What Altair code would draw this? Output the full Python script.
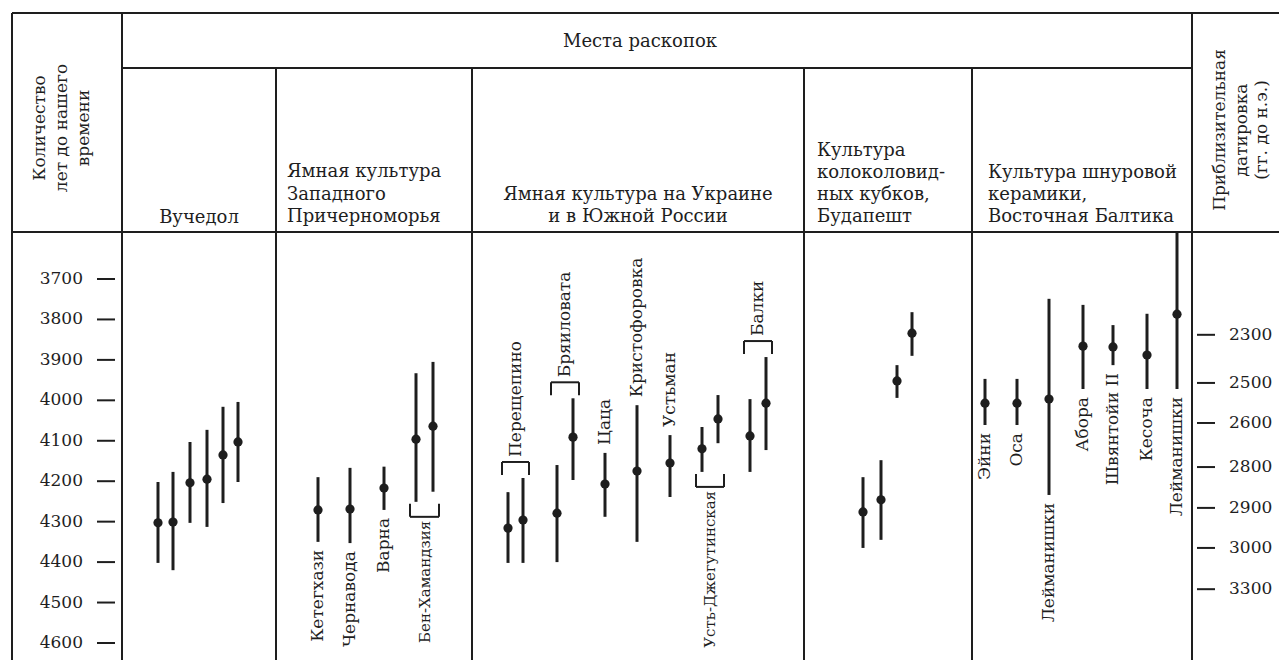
import altair as alt
import pandas as pd

# ---------------- data (years before present) ----------------
site_names = (["Вучедол"] * 6 +
              ["Кетегхази", "Чернавода", "Варна", "Бен-Хамандзия", "Бен-Хамандзия",
               "Перещепино", "Перещепино", "Бряиловата", "Бряиловата", "Цаца",
               "Кристофоровка", "Устьман", "Усть-Джегутинская", "Усть-Джегутинская",
               "Балки", "Балки"] +
              ["Будапешт"] * 4 +
              ["Эйни", "Оса", "Лейманишки", "Абора", "Швянтойи II", "Кесоча", "Лейманишки"])
mid_bp = [4303, 4301, 4204, 4195, 4135, 4103,
          4271, 4269, 4217, 4096, 4064,
          4316, 4296, 4279, 4091, 4207, 4175, 4155, 4120, 4046, 4088, 4007,
          4276, 4246, 3952, 3834,
          4007, 4007, 3997, 3866, 3868, 3888, 3787]
low_bp = [4202, 4177, 4103, 4073, 4016, 4004,
          4190, 4167, 4164, 3933, 3905,
          4227, 4192, 4160, 3995, 4130, 4012, 4086, 4066, 3987, 3997, 3893,
          4190, 4148, 3913, 3782,
          3947, 3947, 3749, 3764, 3814, 3786, 3584]
high_bp = [4402, 4420, 4303, 4313, 4254, 4202,
           4350, 4353, 4271, 4251, 4226,
           4402, 4402, 4400, 4197, 4288, 4350, 4239, 4177, 4106, 4177, 4123,
           4365, 4345, 3994, 3890,
           4061, 4061, 4234, 3972, 3913, 3972, 3972]
# horizontal slot of every dating inside the table
slot = [158, 173, 190, 207, 223, 238,
        318, 350, 384, 416, 433,
        508, 523, 557, 573, 605, 637, 670, 702, 718, 750, 766,
        863, 881, 897, 912,
        985, 1017, 1049, 1083, 1113, 1147, 1177]
label_side = (["none"] * 6 +
              ["below"] * 3 + ["group_below"] * 2 +
              ["group_above"] * 4 + ["above"] * 3 + ["group_below"] * 2 + ["group_above"] * 2 +
              ["none"] * 4 +
              ["below"] * 7)

left_ticks = [3700, 3800, 3900, 4000, 4100, 4200, 4300, 4400, 4500, 4600]
right_tick_labels = ["2300", "2500", "2600", "2800", "2900", "3000", "3300"]
right_tick_bp = [3838, 3957, 4056, 4165, 4266, 4365, 4467]

# ---------------- tables ----------------
df = pd.DataFrame({"name": site_names, "mid": mid_bp, "lo": low_bp, "hi": high_bp,
                   "x": slot, "side": label_side})
grp = df[df["side"].str.startswith("group")].groupby("name").agg(
    xmin=("x", "min"), xmax=("x", "max"), xmid=("x", "mean"),
    lo=("lo", "min"), hi=("hi", "max"), side=("side", "first")).reset_index()
lt = pd.DataFrame({"bp": left_ticks, "lab": [str(v) for v in left_ticks]})
rt = pd.DataFrame({"bp": right_tick_bp, "lab": right_tick_labels})
one = pd.DataFrame({"a": [0]})

W, H = 1271, 652
INK = "#1e1e1e"
FONT = "DejaVu Serif"
XS = alt.Scale(domain=[8, 1279], nice=False, zero=False)
YS = alt.Scale(domain=[3029.9, 4642.1], reverse=True, nice=False, zero=False)


def P(v):
    return alt.value(v - 8)


def hline(x1, x2, y, w=2):
    return alt.Chart(one).mark_rule(color=INK, strokeWidth=w).encode(
        x=P(x1), x2=P(x2), y=P(y))


def vline(x, y1, y2, w=2):
    return alt.Chart(one).mark_rule(color=INK, strokeWidth=w).encode(
        x=P(x), y=P(y1), y2=P(y2))


def txt(s, x, y, align="left", angle=0, size=18):
    return alt.Chart(one).mark_text(font=FONT, fontSize=size, color=INK, align=align,
                                    baseline="middle", angle=angle).encode(
        x=P(x), y=P(y), text=alt.value(s))


layers = []
# table frame
layers += [hline(12, 1287, 13), hline(122, 1192, 68), hline(12, 1287, 232)]
layers += [vline(12, 13, 668), vline(122, 13, 668), vline(1192, 13, 668)]
layers += [vline(x, 68, 668) for x in [276, 472, 804, 972]]

# headers
layers.append(txt("Места раскопок", 640, 42, "center"))
layers.append(txt("Вучедол", 199, 218, "center"))
for s, y in zip(["Ямная культура", "Западного", "Причерноморья"], [172, 195, 217]):
    layers.append(txt(s, 287, y))
for s, y in zip(["Ямная культура на Украине", "и в Южной России"], [195, 217]):
    layers.append(txt(s, 638, y, "center"))
for s, y in zip(["Культура", "колоколовид-", "ных кубков,", "Будапешт"], [151, 173, 195, 217]):
    layers.append(txt(s, 817, y))
for s, y in zip(["Культура шнуровой", "керамики,", "Восточная Балтика"], [173, 195, 217]):
    layers.append(txt(s, 988, y))
for s, x in zip(["Количество", "лет до нашего", "времени"], [40, 62, 84]):
    layers.append(txt(s, x, 128, "center", 270, 17))
for s, x in zip(["Приблизительная", "датировка", "(гг. до н.э.)"], [1220, 1242, 1262]):
    layers.append(txt(s, x, 130, "center", 270, 17))

# left axis (years before present)
layers.append(alt.Chart(lt).mark_rule(color=INK, strokeWidth=2).encode(
    x=P(97), x2=P(115), y=alt.Y("bp:Q", scale=YS, axis=None)))
layers.append(alt.Chart(lt).mark_text(font=FONT, fontSize=17, color=INK, align="right",
                                      baseline="middle").encode(
    x=P(83), y=alt.Y("bp:Q", scale=YS, axis=None), text="lab:N"))
# right axis (approximate calendar dates BC)
layers.append(alt.Chart(rt).mark_rule(color=INK, strokeWidth=2).encode(
    x=P(1197), x2=P(1215), y=alt.Y("bp:Q", scale=YS, axis=None)))
layers.append(alt.Chart(rt).mark_text(font=FONT, fontSize=17, color=INK, align="left",
                                      baseline="middle").encode(
    x=P(1229), y=alt.Y("bp:Q", scale=YS, axis=None), text="lab:N"))

# error bars and points
base = alt.Chart(df)
layers.append(base.mark_rule(color=INK, strokeWidth=3).encode(
    x=alt.X("x:Q", scale=XS, axis=None),
    y=alt.Y("lo:Q", scale=YS, axis=None), y2="hi:Q"))
layers.append(base.mark_circle(color=INK, size=85, opacity=1).encode(
    x=alt.X("x:Q", scale=XS, axis=None),
    y=alt.Y("mid:Q", scale=YS, axis=None)))

# site labels
lab_kw = dict(font=FONT, color=INK, angle=270, baseline="middle")
layers.append(base.transform_filter(alt.datum.side == "below").mark_text(
    align="right", yOffset=8, fontSize=17, **lab_kw).encode(
    x=alt.X("x:Q", scale=XS, axis=None), y=alt.Y("hi:Q", scale=YS, axis=None), text="name:N"))
layers.append(base.transform_filter(alt.datum.side == "above").mark_text(
    align="left", yOffset=-8, fontSize=17, **lab_kw).encode(
    x=alt.X("x:Q", scale=XS, axis=None), y=alt.Y("lo:Q", scale=YS, axis=None), text="name:N"))

g = alt.Chart(grp)
ga = g.transform_filter(alt.datum.side == "group_above")
gb = g.transform_filter(alt.datum.side == "group_below")
X1 = alt.X("xmin:Q", scale=XS, axis=None)
X2 = alt.X("xmax:Q", scale=XS, axis=None)
# brackets above
layers.append(ga.mark_rule(color=INK, strokeWidth=2, xOffset=-6, x2Offset=6, yOffset=-16).encode(
    x=X1, x2="xmax:Q", y=alt.Y("lo:Q", scale=YS, axis=None)))
for xx, off in [(X1, -6), (X2, 6)]:
    layers.append(ga.mark_rule(color=INK, strokeWidth=2, xOffset=off, yOffset=-16, y2Offset=-3).encode(
        x=xx, y=alt.Y("lo:Q", scale=YS, axis=None), y2="lo:Q"))
layers.append(ga.mark_text(align="left", yOffset=-21, fontSize=17, **lab_kw).encode(
    x=alt.X("xmid:Q", scale=XS, axis=None), y=alt.Y("lo:Q", scale=YS, axis=None), text="name:N"))
# brackets below
layers.append(gb.mark_rule(color=INK, strokeWidth=2, xOffset=-6, x2Offset=6, yOffset=15).encode(
    x=X1, x2="xmax:Q", y=alt.Y("hi:Q", scale=YS, axis=None)))
for xx, off in [(X1, -6), (X2, 6)]:
    layers.append(gb.mark_rule(color=INK, strokeWidth=2, xOffset=off, yOffset=2, y2Offset=15).encode(
        x=xx, y=alt.Y("hi:Q", scale=YS, axis=None), y2="hi:Q"))
layers.append(gb.mark_text(align="right", yOffset=19, fontSize=15, **lab_kw).encode(
    x=alt.X("xmid:Q", scale=XS, axis=None), y=alt.Y("hi:Q", scale=YS, axis=None), text="name:N"))

chart = alt.layer(*layers).properties(
    width=W, height=H, padding=0, autosize=alt.AutoSizeParams(type="none"),
    background="white"
).configure_view(stroke=None)

chart.save("out.html", embed_options={"renderer": "svg", "actions": False})
